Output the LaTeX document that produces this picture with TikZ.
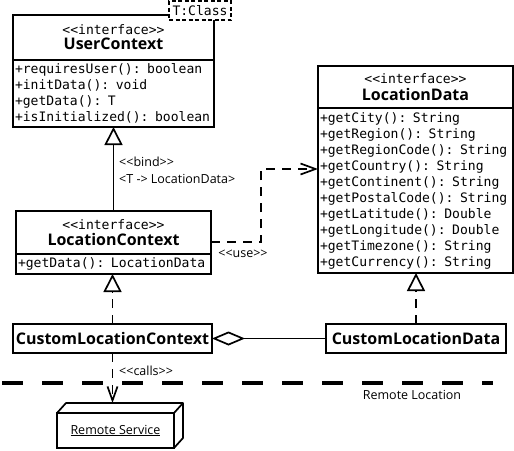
\documentclass[tikz,border=0pt]{standalone}
\usepackage{fontspec}
\setmainfont{Open Sans}
\newfontfamily\monofont{DejaVu Sans Mono}
\usepackage{tikz}
\usetikzlibrary{arrows.meta,positioning,calc}
\newcommand{\umlmono}{\monofont\fontsize{13.05}{16}\selectfont}
\newcommand{\umltitle}{\bfseries\fontsize{16}{18}\selectfont}
\newcommand{\umllabel}{\fontsize{12.5}{17}\selectfont}

\begin{document}
\begin{tikzpicture}[x=1pt,y=-1pt,
  umlhead/.style={draw,line width=1.7pt,fill=white,anchor=north west,outer sep=0pt,inner sep=0pt,align=center},
  umlbody/.style={draw,line width=1.7pt,fill=white,anchor=north west,outer sep=0pt,inner sep=2pt,align=left,font=\umlmono},
  umlbox/.style={draw,line width=1.7pt,fill=white,anchor=north west,outer sep=0pt,inner sep=0pt,font=\umltitle},
  dep/.style={line width=1.7pt,dash pattern=on 9pt off 7pt},
  lbl/.style={font=\umllabel,inner sep=1pt}]
  \useasboundingbox (0,0) rectangle (514,450);
  % interfaces
  \node[umlhead,minimum width=201pt,minimum height=45pt] (uchead) at (13,15) {\umlmono <<interface>>\\[3pt]\umltitle UserContext};
  \node[umlbody,text width=197pt,minimum height=67pt] (ucbody) at (uchead.south west) {+requiresUser(): boolean\\+initData(): void\\+getData(): T\\+isInitialized(): boolean};
  \node[draw,line width=1.4pt,dash pattern=on 4pt off 2.5pt,fill=white,anchor=north west,outer sep=0pt,inner sep=0pt,minimum width=62pt,minimum height=19pt,font=\umlmono] (tparam) at (169,1) {T:Class};
  \node[umlhead,minimum width=195pt,minimum height=42pt] (ldhead) at (318,66) {\umlmono <<interface>>\\[3pt]\umltitle LocationData};
  \node[umlbody,text width=191pt,minimum height=165pt] (ldbody) at (ldhead.south west) {+getCity(): String\\+getRegion(): String\\+getRegionCode(): String\\+getCountry(): String\\+getContinent(): String\\+getPostalCode(): String\\+getLatitude(): Double\\+getLongitude(): Double\\+getTimezone(): String\\+getCurrency(): String};
  \node[umlhead,minimum width=195pt,minimum height=43pt] (lchead) at (16,211) {\umlmono <<interface>>\\[3pt]\umltitle LocationContext};
  \node[umlbody,text width=191pt,minimum height=20pt] (lcbody) at (lchead.south west) {+getData(): LocationData};
  % implementations
  \node[umlbox,minimum width=199pt,minimum height=29pt] (clc) at (13,324) {CustomLocationContext};
  \node[umlbox,minimum width=180pt,minimum height=29pt] (cld) at (326,324) {CustomLocationData};
  % remote side
  \draw[line width=4.5pt,dash pattern=on 21pt off 19pt] (2,383) -- (493,383);
  \node[lbl] (remotelbl) at (412,395) {Remote Location};
  \node[draw,line width=1.7pt,anchor=north west,outer sep=0pt,minimum width=117pt,minimum height=35pt,font=\umllabel] (rs) at (57,413) {\underline{Remote Service}};
  \draw[line width=1.7pt,line join=round] (rs.north west) -- ++(9,-10) -| ($(rs.south east)+(9,-10)$) -- (rs.south east) (rs.north east) -- ++(9,-10);
  \coordinate (rstop) at ([yshift=10pt]rs.north);
  % relations
  \draw[line width=1.7pt,-{Triangle[open,length=18pt,width=18pt]}] (lchead.north) -- (ucbody.south);
  \node[lbl,anchor=west,align=left] (bindlbl) at (118,170.5) {<{}<bind>{}>\\<T -> LocationData>};
  \draw[dep,-{Straight Barb[length=15pt,width=11pt]}] ([yshift=12pt]lchead.south east) -- ++(50,0) |- ([yshift=-61pt]ldbody.north west);
  \node[lbl] (uselbl) at (243,254) {<{}<use>{}>};
  \draw[dep,-{Triangle[open,length=18pt,width=18pt]}] (clc.north) -- (clc.north |- lcbody.south);
  \draw[dep,-{Triangle[open,length=18pt,width=18pt]}] (cld.north) -- (cld.north |- ldbody.south);
  \draw[line width=1.7pt,{Diamond[open,length=33pt,width=14pt]}-] (clc.east) -- (cld.west);
  \draw[dep,-{Straight Barb[length=14pt,width=10pt]}] (clc.south) -- (clc.south |- rstop);
  \node[lbl,anchor=west] (callslbl) at (118,371) {<{}<calls>{}>};
\end{tikzpicture}
\end{document}
